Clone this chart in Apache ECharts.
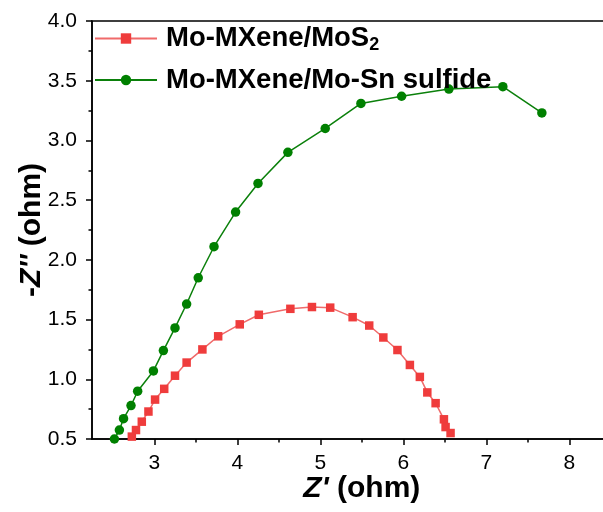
<!DOCTYPE html>
<html>
<head>
<meta charset="utf-8">
<script src="https://cdn.jsdelivr.net/npm/echarts@6/dist/echarts.min.js"></script>
<style>
  html, body { margin: 0; padding: 0; background: #fff; }
  #chart { width: 603px; height: 512px; }
</style>
</head>
<body>
<div id="chart"></div>
<script>
// Nyquist data: Z' (ohm) vs -Z'' (ohm)
const mos2Re = [2.73, 2.78, 2.85, 2.93, 3.01, 3.12, 3.25, 3.39, 3.58, 3.77, 4.03, 4.26, 4.64, 4.90, 5.12, 5.39, 5.59, 5.76, 5.93, 6.08, 6.20, 6.29, 6.39, 6.49, 6.51, 6.57];
const mos2Im = [0.52, 0.575, 0.645, 0.73, 0.83, 0.92, 1.03, 1.14, 1.25, 1.36, 1.46, 1.54, 1.59, 1.605, 1.60, 1.52, 1.45, 1.35, 1.245, 1.12, 1.02, 0.89, 0.80, 0.665, 0.60, 0.55];

const snRe = [2.52, 2.58, 2.63, 2.72, 2.80, 2.99, 3.11, 3.25, 3.39, 3.53, 3.72, 3.98, 4.25, 4.61, 5.06, 5.49, 5.98, 6.55, 7.20, 7.67];
const snIm = [0.50, 0.575, 0.67, 0.78, 0.90, 1.07, 1.24, 1.43, 1.63, 1.85, 2.11, 2.40, 2.64, 2.90, 3.10, 3.31, 3.37, 3.43, 3.45, 3.23];

const seriesNames = ['Mo-MXene/MoS2', 'Mo-MXene/Mo-Sn sulfide'];
const xMajorTicks = [3, 4, 5, 6, 7, 8];
const xMinorTicks = [2.5, 3.5, 4.5, 5.5, 6.5, 7.5, 8.5];

const pair = (xs, ys) => xs.map((x, i) => [x, ys[i]]);

const FONT = 'Arial, "Liberation Sans", sans-serif';
const chart = echarts.init(document.getElementById('chart'), null, { renderer: 'canvas' });

chart.setOption({
  backgroundColor: '#ffffff',
  animation: false,
  grid: {
    left: 92, top: 21, bottom: 73, width: 539.5,
    outerBoundsMode: 'none',
    containLabel: false,
    show: true, borderColor: '#000', borderWidth: 1.5, backgroundColor: 'transparent'
  },
  legend: {
    orient: 'vertical',
    left: 89, top: 19,
    itemWidth: 62, itemHeight: 13, itemGap: 12,
    data: seriesNames,
    formatter: function (name) {
      if (name === seriesNames[0]) return '{t|Mo-MXene/MoS}{s|2}';
      return '{t|' + name + '}';
    },
    textStyle: {
      padding: [0, 0, 0, 4],
      rich: {
        t: { fontFamily: FONT, fontWeight: 'bold', fontSize: 27.5, color: '#000', lineHeight: 31 },
        s: { fontFamily: FONT, fontWeight: 'bold', fontSize: 18, color: '#000', verticalAlign: 'bottom', lineHeight: 31, padding: [12, 0, 0, 0] }
      }
    }
  },
  xAxis: [{
    type: 'value',
    min: 2.25, max: 8.75,
    splitLine: { show: false },
    axisLine: { show: true, lineStyle: { color: '#000', width: 1.5 } },
    axisTick: { show: true, length: 6, lineStyle: { color: '#000', width: 1.5 }, customValues: xMajorTicks },
    axisLabel: { customValues: xMajorTicks, fontFamily: FONT, fontSize: 21, color: '#000', margin: 14 },
    name: '{i|Z\'}{n| (ohm)}',
    nameLocation: 'middle',
    nameGap: 35,
    nameMoveOverlap: false,
    nameTextStyle: {
      rich: {
        i: { fontFamily: FONT, fontWeight: 'bold', fontStyle: 'italic', fontSize: 30, color: '#000' },
        n: { fontFamily: FONT, fontWeight: 'bold', fontSize: 30, color: '#000' }
      }
    }
  }, {
    // minor ticks along the bottom axis
    type: 'value',
    position: 'bottom',
    min: 2.25, max: 8.75,
    splitLine: { show: false },
    axisLine: { show: false },
    axisTick: { show: true, length: 3.5, lineStyle: { color: '#000', width: 1.5 }, customValues: xMinorTicks },
    axisLabel: { show: false, customValues: xMinorTicks }
  }],
  yAxis: {
    type: 'value',
    min: 0.5, max: 4.0, interval: 0.5,
    splitLine: { show: false },
    axisLine: { show: true, lineStyle: { color: '#000', width: 1.5 } },
    axisTick: { show: true, length: 6, lineStyle: { color: '#000', width: 1.5 } },
    minorTick: { show: true, splitNumber: 2, length: 3.5, lineStyle: { color: '#000', width: 1.5 } },
    axisLabel: { fontFamily: FONT, fontSize: 21, color: '#000', margin: 15, formatter: v => v.toFixed(1) },
    name: '{n|-}{i|Z\'\'}{n| (ohm)}',
    nameLocation: 'middle',
    nameRotate: 90,
    nameGap: 45,
    nameMoveOverlap: false,
    nameTextStyle: {
      rich: {
        i: { fontFamily: FONT, fontWeight: 'bold', fontStyle: 'italic', fontSize: 30, color: '#000' },
        n: { fontFamily: FONT, fontWeight: 'bold', fontSize: 30, color: '#000' }
      }
    }
  },
  series: [{
    name: seriesNames[0],
    type: 'line',
    xAxisIndex: 0,
    data: pair(mos2Re, mos2Im),
    symbol: 'rect',
    symbolSize: 8.5,
    lineStyle: { color: '#f06a6a', width: 1.5 },
    itemStyle: { color: '#ef3c3c' }
  }, {
    name: seriesNames[1],
    type: 'line',
    xAxisIndex: 0,
    data: pair(snRe, snIm),
    symbol: 'circle',
    symbolSize: 9.5,
    lineStyle: { color: '#0b800b', width: 1.5 },
    itemStyle: { color: '#008000' }
  }]
});
</script>
</body>
</html>
